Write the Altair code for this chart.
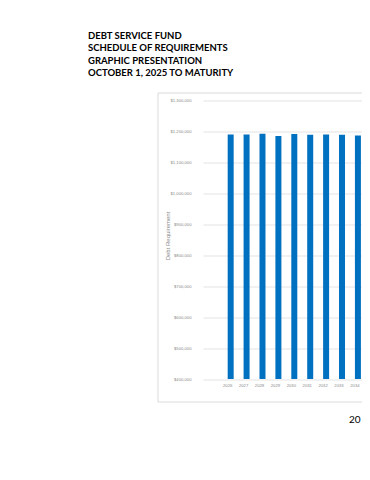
import altair as alt
import pandas as pd

title_lines = [
    "DEBT SERVICE FUND",
    "SCHEDULE OF REQUIREMENTS",
    "GRAPHIC PRESENTATION",
    "OCTOBER 1, 2025 TO MATURITY",
]
years = ["2026", "2027", "2028", "2029", "2030", "2031", "2032", "2033", "2034"]
requirements = [1190000, 1190000, 1192500, 1185000, 1191500, 1189000, 1190000, 1189000, 1187000]
y_ticks = [400000, 500000, 600000, 700000, 800000, 900000, 1000000, 1100000, 1200000, 1300000]
y_title = "Debt Requirement"
page_number = "20"

df = pd.DataFrame({"year": years, "value": requirements})

GRID = "#e3e3e3"
LABEL = "#8a8a8a"
SHIFT = 11.8

bars = alt.Chart(df).mark_bar(color="#0070C0", xOffset=SHIFT, clip=True).encode(
    x=alt.X(
        "year:N",
        sort=None,
        scale=alt.Scale(paddingInner=0.623, paddingOuter=0.81),
        axis=alt.Axis(
            title=None, labelAngle=0, labelFontSize=4.2, labelColor=LABEL,
            labelFont="Liberation Sans", labelPadding=4, labelOffset=SHIFT - 3,
            ticks=False, domain=False, grid=False,
        ),
    ),
    y=alt.Y(
        "value:Q",
        scale=alt.Scale(domain=[400000, 1300000], nice=False, zero=False),
        axis=alt.Axis(
            title=None, values=y_ticks, format="$,.0f", labelFontSize=4.2,
            labelColor=LABEL, labelFont="Liberation Sans", labelPadding=12,
            ticks=False, domain=False, grid=True, gridColor=GRID, gridWidth=1,
        ),
    ),
)

panel = alt.Chart(pd.DataFrame({"k": [0]})).mark_rect(
    fillOpacity=0, stroke="#dadada", strokeWidth=1
).encode(
    x=alt.value(-45), x2=alt.value(320), y=alt.value(-7.5), y2=alt.value(301.5)
)

layers = [panel, bars]

for i, line in enumerate(title_lines):
    layers.append(
        alt.Chart(pd.DataFrame({"t": [line]})).mark_text(
            align="left", baseline="alphabetic", font="Lato", fontWeight="bold",
            fontSize=9.5, color="#000000",
        ).encode(text="t:N", x=alt.value(-115), y=alt.value(-61.5 + i * 12.45))
    )

layers.append(
    alt.Chart(pd.DataFrame({"t": [y_title]})).mark_text(
        align="center", baseline="middle", angle=270, font="Liberation Sans",
        fontSize=6, color=LABEL,
    ).encode(text="t:N", x=alt.value(-35), y=alt.value(135.5))
)

layers.append(
    alt.Chart(pd.DataFrame({"t": [page_number]})).mark_text(
        align="left", baseline="alphabetic", font="Lato", fontSize=10, color="#000000",
    ).encode(text="t:N", x=alt.value(146), y=alt.value(322.8))
)

chart = alt.layer(*layers).properties(
    width=159,
    height=278.5,
    padding={"left": 195, "top": 92.5, "right": 0, "bottom": 70},
    autosize=alt.AutoSizeParams(type="none"),
    background="white",
).configure_view(stroke=None)

chart.save("out.html", embed_options={"renderer": "svg", "actions": False})
